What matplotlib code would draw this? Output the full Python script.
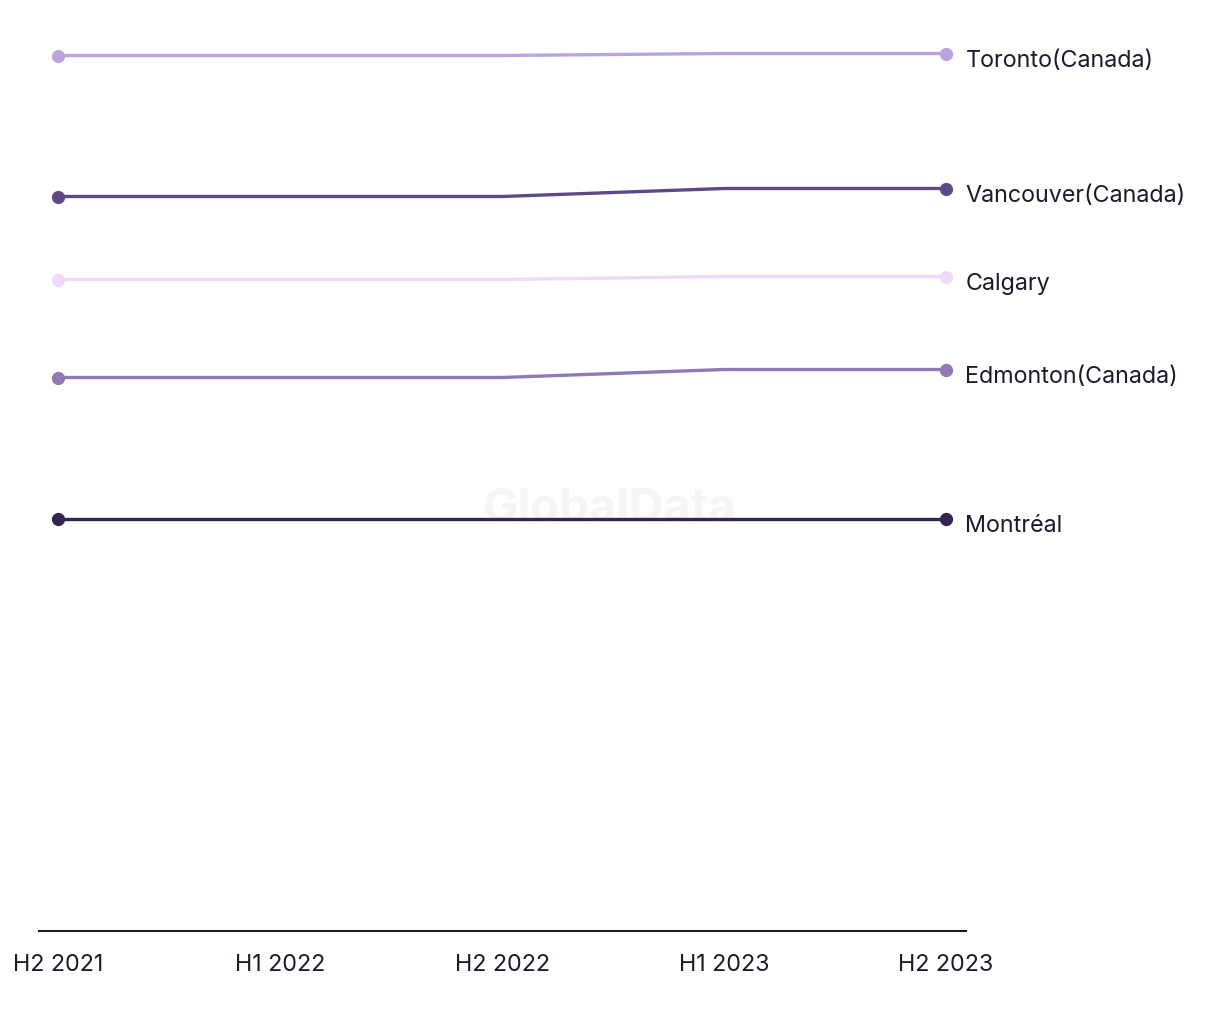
import matplotlib
matplotlib.use("Agg")
import matplotlib.pyplot as plt

periods = ["H2 2021", "H1 2022", "H2 2022", "H1 2023", "H2 2023"]
cities = ["Toronto(Canada)", "Vancouver(Canada)", "Calgary", "Edmonton(Canada)", "Montréal"]
toronto = [875, 875, 875, 877, 877]
vancouver = [734, 734, 734, 742, 742]
calgary = [651, 651, 651, 654, 654]
edmonton = [553, 553, 553, 561, 561]
montreal = [412, 412, 412, 412, 412]
series = [toronto, vancouver, calgary, edmonton, montreal]
colors = ["#BCA3E0", "#5E4A82", "#F0D9FA", "#9079B5", "#35244F"]

plt.rcParams['font.family'] = ['Inter', 'DejaVu Sans']
text_color = "#1B1B2F"

fig = plt.figure(figsize=(12.2, 10.2), dpi=100)
ax = fig.add_axes([39 / 1220, 1 - 931.5 / 1020, (966 - 39) / 1220, 931.5 / 1020])

x = list(range(len(periods)))
ax.text(610 / 1220, 1 - 510 / 1020, "GlobalData", ha="center", va="center",
        transform=fig.transFigure, fontsize=34, fontweight="bold", color="#F5F5F5", zorder=1)

for name, vals, c in zip(cities, series, colors):
    ax.plot(x, vals, color=c, lw=2.4, solid_capstyle="round", zorder=3)
    ax.plot([x[0], x[-1]], [vals[0], vals[-1]], linestyle="none", marker="o",
            markersize=8.5, color=c, zorder=4)
    ax.annotate(name, xy=(x[-1], vals[-1]), xytext=(14, -4.5), textcoords="offset points",
                ha="left", va="center", fontsize=16.8, color=text_color, annotation_clip=False)

ax.set_xlim(-0.0856, 4.09)
ax.set_ylim(0, 931.5)
ax.set_xticks(x)
ax.set_xticklabels(periods, fontsize=16.8, color=text_color)
ax.tick_params(axis="x", length=0, pad=16)
ax.set_yticks([])
for s in ["top", "right", "left"]:
    ax.spines[s].set_visible(False)
ax.spines["bottom"].set_color(text_color)
ax.spines["bottom"].set_linewidth(1.5)
ax.patch.set_alpha(0)

fig.savefig("out.png", dpi=100)
